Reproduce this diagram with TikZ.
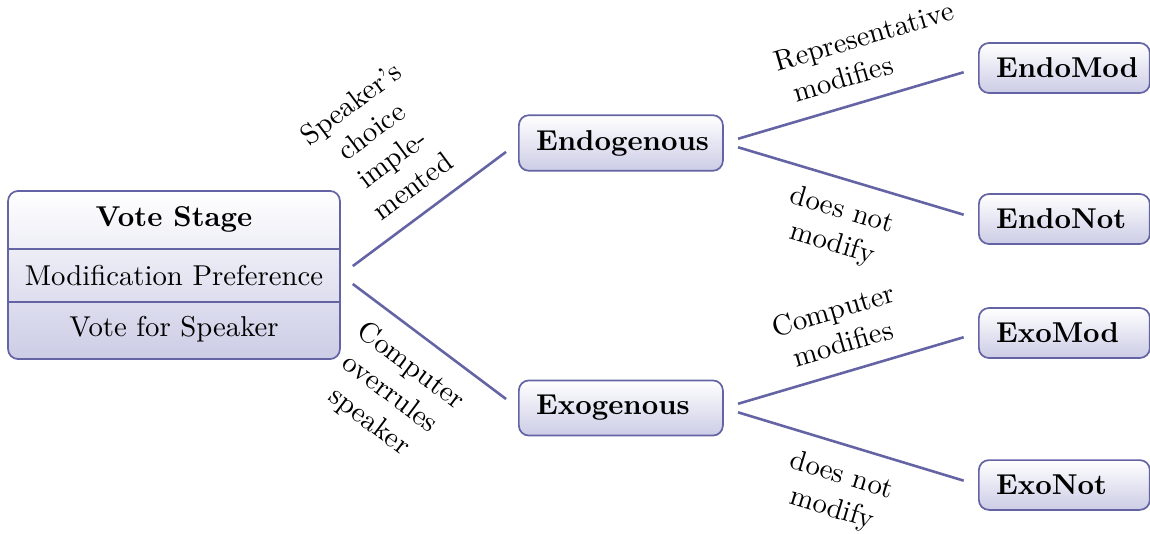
\documentclass[tikz,border=0pt]{standalone}
\definecolor{lc}{RGB}{100,100,165}
\definecolor{fillb}{RGB}{204,204,230}
\begin{document}
\begin{tikzpicture}[x=0.348pt,y=-0.348pt,
  box/.style={draw=lc, line width=0.6pt, rounded corners=3.5pt, top color=white, bottom color=fillb, inner xsep=6pt, inner ysep=5.2pt, font=\bfseries, align=left},
  midbox/.style={box, text width=59pt},
  leafbox/.style={box, text width=47.5pt},
  edge/.style={draw=lc, line width=0.9pt, shorten <=5.2pt, shorten >=5.2pt},
  lab/.style={align=center, sloped, font=\normalfont, inner sep=6pt},
  part/.style={inner sep=0pt}]
\useasboundingbox (0,0) rectangle (1150,534);
\node[box, minimum width=115.5pt, minimum height=58.5pt] (vs) at (174,275) {};
\coordinate (d1) at (0,249);
\coordinate (d2) at (0,302);
\draw[draw=lc, line width=0.6pt] (vs.west |- d1) -- (vs.east |- d1);
\draw[draw=lc, line width=0.6pt] (vs.west |- d2) -- (vs.east |- d2);
\node[part, font=\bfseries] (vs1) at (174,219) {Vote Stage};
\node[part] (vs2) at (174,276) {Modification Preference};
\node[part] (vs3) at (174,329) {Vote for Speaker};
\node[midbox, anchor=west] (endo) at (518,143) {Endogenous};
\node[midbox, anchor=west] (exo) at (518,408) {Exogenous};
\node[leafbox, anchor=west] (em) at (978,68) {EndoMod};
\node[leafbox, anchor=west] (en) at (978,219) {EndoNot};
\node[leafbox, anchor=west] (xm) at (978,333) {ExoMod};
\node[leafbox, anchor=west] (xn) at (978,485) {ExoNot};
\draw[edge] (vs.east) -- node[lab, above] {Speaker's\\choice\\imple-\\mented} (endo.west);
\draw[edge] (vs.east) -- node[lab, below] {Computer\\overrules\\speaker} (exo.west);
\draw[edge] (endo.east) -- node[lab, above] {\makebox[42pt][l]{Representative}\\modifies} (em.west);
\draw[edge] (endo.east) -- node[lab, below] {does not\\modify} (en.west);
\draw[edge] (exo.east) -- node[lab, above] {Computer\\modifies} (xm.west);
\draw[edge] (exo.east) -- node[lab, below] {does not\\modify} (xn.west);
\end{tikzpicture}
\end{document}
